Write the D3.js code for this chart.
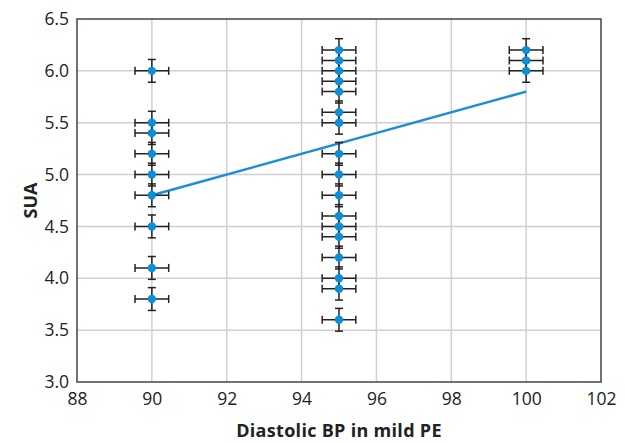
<!DOCTYPE html>
<html>
<head>
<meta charset="utf-8">
<script src="https://cdn.jsdelivr.net/npm/d3@7"></script>
<style>
  body { margin: 0; background: #fff; }
  svg { display: block; }
  text { font-family: "Open Sans", "Noto Sans", sans-serif; fill: #222; }
</style>
</head>
<body>
<div id="chart"></div>
<script>
// data
var bp90 = [6.0, 5.5, 5.4, 5.2, 5.0, 4.8, 4.5, 4.1, 3.8];
var bp95 = [6.2, 6.1, 6.0, 5.9, 5.8, 5.6, 5.5, 5.2, 5.0, 4.8, 4.6, 4.5, 4.4, 4.2, 4.0, 3.9, 3.6];
var bp100 = [6.2, 6.1, 6.0];
var fitX = [90, 100];
var fitY = [4.8, 5.8];
var xTicks = [88, 90, 92, 94, 96, 98, 100, 102];
var yTicks = [3.0, 3.5, 4.0, 4.5, 5.0, 5.5, 6.0, 6.5];
var xErr = 0.45, yErr = 0.11;

var width = 625, height = 443;
var margin = {left: 77, right: 24, top: 19, bottom: 61};

var points = [];
[[90, bp90], [95, bp95], [100, bp100]].forEach(function (g) {
    g[1].forEach(function (v) { points.push({x: g[0], y: v}); });
});

var svg = d3.select("#chart").append("svg")
    .attr("width", width).attr("height", height);

var x = d3.scaleLinear().domain([88, 102]).range([margin.left, width - margin.right]);
var y = d3.scaleLinear().domain([3.0, 6.5]).range([height - margin.bottom, margin.top]);

// grid
svg.append("g").selectAll("line").data(xTicks.slice(1, -1)).enter().append("line")
    .attr("x1", function (d) { return x(d); }).attr("x2", function (d) { return x(d); })
    .attr("y1", y(3.0)).attr("y2", y(6.5))
    .attr("stroke", "#d0d0d0").attr("stroke-width", 1.5);
svg.append("g").selectAll("line").data(yTicks.slice(1, -1)).enter().append("line")
    .attr("y1", function (d) { return y(d); }).attr("y2", function (d) { return y(d); })
    .attr("x1", x(88)).attr("x2", x(102))
    .attr("stroke", "#d0d0d0").attr("stroke-width", 1.5);

// frame
svg.append("rect")
    .attr("x", x(88)).attr("y", y(6.5))
    .attr("width", x(102) - x(88)).attr("height", y(3.0) - y(6.5))
    .attr("fill", "none").attr("stroke", "#444").attr("stroke-width", 1.5);

// axes
var xAxis = svg.append("g").attr("transform", "translate(0," + y(3.0) + ")")
    .call(d3.axisBottom(x).tickValues(xTicks).tickSize(0).tickPadding(11).tickFormat(d3.format("d")));
var yAxis = svg.append("g").attr("transform", "translate(" + x(88) + ",0)")
    .call(d3.axisLeft(y).tickValues(yTicks).tickSize(0).tickPadding(8).tickFormat(d3.format(".1f")));
[xAxis, yAxis].forEach(function (a) {
    a.select(".domain").remove();
    a.selectAll("text").style("font-size", "17.5px").attr("fill", "#222")
        .style("font-family", "'Open Sans', 'Noto Sans', sans-serif");
});

// labels
svg.append("text").attr("x", (x(88) + x(102)) / 2).attr("y", 437)
    .attr("text-anchor", "middle").style("font-size", "18px").style("font-weight", "bold")
    .style("letter-spacing", "0.3px")
    .text("Diastolic BP in mild PE");
svg.append("text").attr("transform", "translate(37," + ((y(3.0) + y(6.5)) / 2) + ") rotate(-90)")
    .attr("text-anchor", "middle").style("font-size", "18px").style("font-weight", "bold")
    .text("SUA");

// fit line
svg.append("line")
    .attr("x1", x(fitX[0])).attr("y1", y(fitY[0]))
    .attr("x2", x(fitX[1])).attr("y2", y(fitY[1]))
    .attr("stroke", "#1a8fd6").attr("stroke-width", 2.5);

// error bars
var cap = 4;
var eb = svg.append("g").attr("stroke", "#222").attr("stroke-width", 1.5);
points.forEach(function (p) {
    var cx = x(p.x), cy = y(p.y);
    var x0 = x(p.x - xErr), x1 = x(p.x + xErr);
    var y0 = y(p.y - yErr), y1 = y(p.y + yErr);
    eb.append("line").attr("x1", x0).attr("x2", x1).attr("y1", cy).attr("y2", cy);
    eb.append("line").attr("x1", x0).attr("x2", x0).attr("y1", cy - cap).attr("y2", cy + cap);
    eb.append("line").attr("x1", x1).attr("x2", x1).attr("y1", cy - cap).attr("y2", cy + cap);
    eb.append("line").attr("x1", cx).attr("x2", cx).attr("y1", y0).attr("y2", y1);
    eb.append("line").attr("x1", cx - cap).attr("x2", cx + cap).attr("y1", y0).attr("y2", y0);
    eb.append("line").attr("x1", cx - cap).attr("x2", cx + cap).attr("y1", y1).attr("y2", y1);
});

// points
svg.append("g").selectAll("circle").data(points).enter().append("circle")
    .attr("cx", function (d) { return x(d.x); })
    .attr("cy", function (d) { return y(d.y); })
    .attr("r", 4.2)
    .attr("fill", "#0a8fd8");
</script>
</body>
</html>
